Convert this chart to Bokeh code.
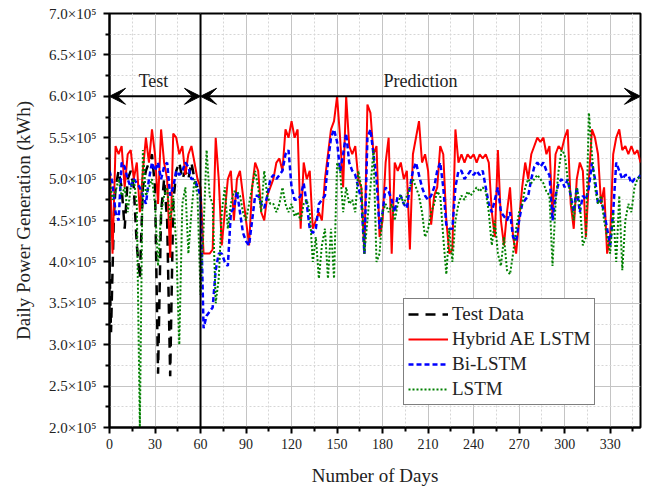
from bokeh.plotting import figure
from bokeh.models import FixedTicker, CustomJSTickFormatter, Span, Arrow, VeeHead, Label
from bokeh.embed import file_html
from bokeh.resources import INLINE

# ---------------- data (values in units of 1e5 kWh) ----------------
days = list(range(0, 351, 2))

test_days = [0, 1, 2, 3, 4, 6, 8, 10, 12, 14, 16, 18, 20, 22, 24, 26, 28, 30,
             32, 34, 36, 38, 40, 42, 44, 46, 48, 50, 52, 54, 56, 58]
test_data = [4.0, 3.15, 3.9, 4.6, 4.9, 5.1, 4.9, 4.4, 5.0, 5.1, 4.9, 4.2, 3.8, 4.9,
             5.1, 5.2, 5.3, 4.9, 2.65, 4.6, 5.0, 4.5, 2.62, 4.7, 5.1, 5.2, 5.0, 5.1,
             5.0, 5.2, 5.0, 4.9]

hybrid = [
    5.3, 4.1, 5.4, 5.3, 5.4, 4.9, 5.3, 5.35, 5.0, 5.2,
    4.6, 5.1, 5.5, 5.2, 5.6, 5.3, 4.7, 5.6, 5.2, 5.0,
    4.05, 5.55, 5.5, 5.3, 5.4, 5.05, 5.3, 5.4, 5.2, 5.0,
    4.9, 4.1, 4.1, 4.1, 4.15, 5.5, 5.0, 4.2, 4.6, 5.0,
    5.1, 4.5, 5.0, 5.1, 4.8, 4.5, 4.2, 4.9, 5.2, 5.1,
    4.6, 4.5, 4.8, 4.9, 5.0, 5.2, 5.25, 5.1, 5.6, 5.5,
    5.7, 5.5, 5.6, 4.4, 5.2, 5.0, 5.1, 4.4, 4.5, 4.6,
    4.5, 5.0, 5.3, 5.6, 5.7, 6.0, 5.5, 4.9, 6.0, 5.4,
    5.3, 5.4, 5.0, 4.9, 4.1, 5.9, 5.8, 5.3, 5.4, 4.3,
    4.5, 5.2, 5.5, 4.1, 5.2, 5.1, 5.2, 5.0, 5.1, 4.15,
    5.3, 5.5, 5.7, 5.2, 5.3, 5.1, 4.45, 4.8, 4.9, 5.4,
    5.3, 4.5, 4.1, 4.15, 5.6, 5.2, 5.3, 5.2, 5.3, 5.25,
    5.3, 5.2, 5.3, 5.25, 5.3, 5.2, 4.6, 4.3, 5.35, 4.5,
    4.2, 4.6, 4.9, 4.3, 4.1, 4.5, 4.9, 5.2, 5.0, 5.3,
    5.4, 5.5, 5.45, 5.5, 5.3, 5.4, 4.55, 5.3, 5.4, 5.35,
    5.5, 5.6, 4.7, 4.4, 5.0, 5.2, 5.1, 4.3, 5.0, 5.6,
    5.5, 5.3, 4.7, 4.9, 4.1, 4.3, 5.3, 5.5, 5.6, 5.35,
    5.4, 5.3, 5.4, 5.3, 5.35, 5.2,
]

bilstm = [
    5.1, 4.95, 4.6, 4.5, 5.2, 5.15, 5.0, 4.9, 5.0, 4.95,
    4.9, 4.8, 4.7, 5.0, 5.2, 5.1, 5.2, 5.0, 5.15, 5.2,
    4.8, 4.9, 5.1, 5.05, 5.1, 5.2, 5.15, 5.0, 5.0, 4.9,
    4.8, 3.2, 3.35, 3.4, 3.45, 3.9, 4.1, 4.1, 4.0, 3.95,
    4.6, 4.65, 4.85, 4.6, 4.35, 4.25, 4.2, 4.5, 4.8, 4.8,
    4.7, 4.65, 4.8, 5.0, 5.05, 5.0, 5.05, 5.1, 5.3, 5.35,
    4.9, 4.75, 4.75, 4.8, 4.95, 4.7, 4.4, 4.35, 4.4, 4.7,
    4.75, 4.8, 5.2, 5.5, 5.6, 5.45, 5.1, 5.3, 5.55, 5.2,
    5.1, 5.05, 4.9, 4.75, 4.1, 5.5, 5.6, 5.3, 5.0, 4.4,
    4.6, 4.9, 4.85, 4.75, 4.6, 4.8, 4.8, 4.7, 4.65, 4.9,
    5.1, 5.2, 5.05, 4.9, 4.8, 4.75, 4.8, 4.9, 5.1, 5.2,
    4.9, 4.45, 4.4, 4.4, 4.9, 5.1, 5.1, 5.0, 5.05, 5.1,
    5.05, 5.1, 5.05, 5.1, 4.9, 4.7, 4.6, 4.75, 4.9, 4.6,
    4.55, 4.5, 4.6, 4.3, 4.25, 4.5, 4.7, 4.75, 4.8, 5.0,
    5.15, 5.2, 5.15, 5.2, 5.1, 5.05, 4.5, 4.8, 4.95, 5.0,
    4.9, 5.0, 4.8, 4.6, 4.9, 4.6, 4.8, 4.75, 4.9, 5.2,
    5.0, 4.7, 4.75, 4.6, 4.4, 4.2, 4.6, 5.2, 5.1, 5.0,
    5.05, 5.05, 4.95, 5.0, 5.0, 5.05,
]

lstm = [
    5.0, 4.75, 4.85, 5.0, 4.8, 4.9, 4.6, 4.9, 5.0, 4.7,
    2.0, 5.35, 4.8, 4.9, 5.0, 4.7, 3.95, 4.6, 4.8, 4.9,
    4.5, 4.8, 4.2, 3.0, 4.7, 4.9, 4.1, 4.6, 5.0, 4.8,
    3.6, 4.4, 5.35, 4.8, 4.7, 3.5, 3.8, 4.6, 4.9, 4.4,
    4.7, 4.85, 4.85, 4.8, 4.6, 4.5, 4.7, 4.9, 5.1, 4.9,
    4.6, 5.1, 4.8, 4.7, 4.7, 4.6, 4.7, 4.9, 4.7, 4.6,
    4.7, 4.55, 4.6, 4.5, 4.7, 4.75, 4.6, 4.0, 4.3, 3.8,
    4.2, 4.4, 3.8, 4.4, 3.8, 5.2, 5.1, 4.6, 4.9, 4.7,
    4.75, 4.6, 5.1, 4.9, 4.1, 4.5, 4.9, 5.35, 4.0, 4.1,
    4.6, 4.7, 4.6, 4.7, 4.5, 4.7, 4.8, 4.7, 4.8, 4.9,
    5.0, 4.9, 4.8, 4.6, 4.3, 4.4, 4.6, 4.7, 4.85, 4.8,
    4.3, 3.85, 4.4, 4.0, 4.5, 4.7, 4.8, 4.75, 4.85, 4.8,
    4.85, 4.9, 4.85, 4.9, 4.85, 4.6, 4.2, 4.5, 4.1, 3.95,
    4.3, 3.9, 3.85, 4.1, 4.4, 4.6, 4.7, 4.9, 5.0, 4.95,
    5.0, 5.05, 5.0, 4.95, 4.85, 4.8, 3.95, 4.7, 5.1, 5.35,
    5.3, 5.0, 4.8, 4.5, 4.9, 4.7, 4.2, 4.3, 5.8, 5.3,
    4.9, 4.7, 4.8, 4.5, 4.3, 4.1, 4.6, 4.0, 4.8, 3.9,
    4.5, 4.7, 4.6, 4.9, 5.0, 5.05,
]

x_ticks = [0, 30, 60, 90, 120, 150, 180, 210, 240, 270, 300, 330]
y_ticks = [2.0, 2.5, 3.0, 3.5, 4.0, 4.5, 5.0, 5.5, 6.0, 6.5, 7.0]
SCALE = 1e5

FONT = "Liberation Serif"

p = figure(width=643, height=488, x_range=(0, 350), y_range=(2e5, 7e5),
           output_backend="svg", toolbar_location=None,
           min_border_left=109, min_border_right=3, min_border_top=13,
           min_border_bottom=57)
p.background_fill_color = "white"
p.border_fill_color = "white"
p.outline_line_color = "black"
p.outline_line_width = 2

# axes
p.xaxis.ticker = FixedTicker(ticks=x_ticks, minor_ticks=[t + 15 for t in x_ticks])
p.yaxis.ticker = FixedTicker(ticks=[v * SCALE for v in y_ticks],
                             minor_ticks=[(v + 0.25) * SCALE for v in y_ticks[:-1]])
p.yaxis.formatter = CustomJSTickFormatter(code="return (tick/1e5).toFixed(1) + '\u00d710\u2075';")
for ax in (p.xaxis[0], p.yaxis[0]):
    ax.axis_line_width = 2
    ax.axis_line_color = "black"
    ax.major_tick_line_width = 2
    ax.minor_tick_line_width = 2
    ax.major_tick_out = 6
    ax.major_tick_in = 0
    ax.minor_tick_out = 4
    ax.minor_tick_in = 0
    ax.major_label_text_font = FONT
    ax.major_label_text_font_size = "14px"
    ax.major_label_text_color = "#222222"
    ax.axis_label_text_font = FONT
    ax.axis_label_text_font_style = "normal"
    ax.axis_label_text_font_size = "19px"
    ax.axis_label_text_color = "#222222"
p.yaxis.major_label_text_font_size = "15px"
p.xaxis.axis_label = "Number of Days"
p.yaxis.axis_label = "Daily Power Generation (kWh)"
p.xaxis.axis_label_standoff = 13
p.yaxis.axis_label_standoff = 12
p.yaxis.major_label_standoff = 7

# grid
p.xgrid.ticker = p.xaxis.ticker
p.ygrid.ticker = p.yaxis.ticker
for g in (p.xgrid[0], p.ygrid[0]):
    g.grid_line_color = "#c4c4c4"
    g.grid_line_width = 1
    g.minor_grid_line_color = "#d6d6d6"
    g.minor_grid_line_dash = "2 2"
    g.minor_grid_line_width = 1

# series
p.line(test_days, [v * SCALE for v in test_data], line_color="black", line_width=2.5,
       line_dash="10 7", legend_label="Test Data")
p.line(days, [v * SCALE for v in hybrid], line_color="#ff0000", line_width=2,
       legend_label="Hybrid AE LSTM")
p.line(days, [v * SCALE for v in bilstm], line_color="#0000ff", line_width=2.5,
       line_dash="5 3", legend_label="Bi-LSTM")
p.line(days, [v * SCALE for v in lstm], line_color="#008000", line_width=2,
       line_dash="2 2", legend_label="LSTM")

# separator and arrows
p.add_layout(Span(location=60, dimension="height", line_color="black", line_width=2))
for xs, xe in ((0, 60), (60, 350)):
    p.add_layout(Arrow(x_start=xs, y_start=6.0e5, x_end=xe, y_end=6.0e5, line_width=2,
                       line_color="black",
                       start=VeeHead(size=16, fill_color="black", line_color="black"),
                       end=VeeHead(size=16, fill_color="black", line_color="black")))
p.add_layout(Label(x=29, y=6.18e5, text="Test", text_font=FONT, text_font_size="18px",
                   text_align="center", text_baseline="middle", text_color="#222222"))
p.add_layout(Label(x=205, y=6.18e5, text="Prediction", text_font=FONT, text_font_size="18px",
                   text_align="center", text_baseline="middle", text_color="#222222"))

# legend
lg = p.legend[0]
lg.location = (294, 22)
lg.border_line_color = "black"
lg.border_line_width = 1
lg.background_fill_alpha = 1
lg.label_text_font = FONT
lg.label_text_font_size = "19px"
lg.label_text_color = "#222222"
lg.glyph_width = 40
lg.glyph_height = 20
lg.spacing = 3
lg.padding = 4
lg.margin = 0
lg.label_standoff = 4
lg.label_height = 20

open("out.html", "w").write(file_html(p, INLINE))
